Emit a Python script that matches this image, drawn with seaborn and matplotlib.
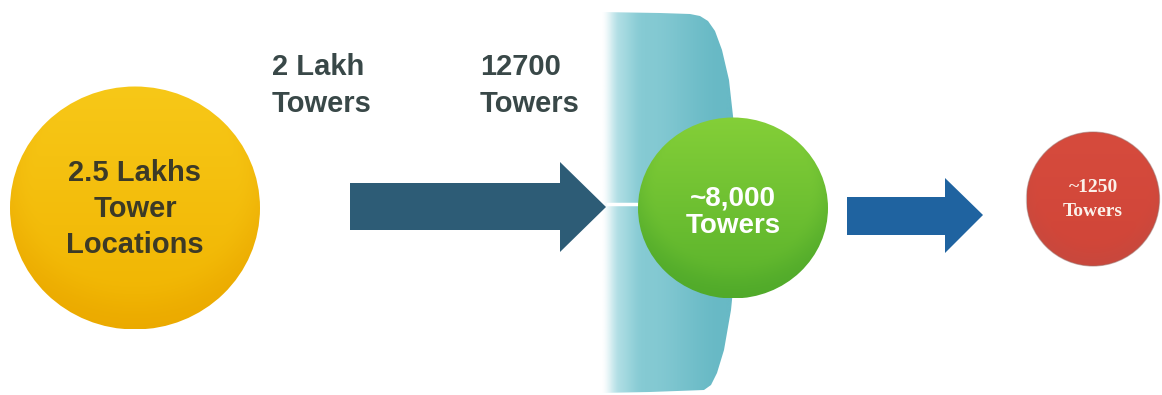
import numpy as np
import matplotlib
matplotlib.use("Agg")
import matplotlib.pyplot as plt
from matplotlib.patches import Ellipse, Polygon
from matplotlib.colors import to_rgb
import seaborn as sns

# ---- content -------------------------------------------------------------
stage_names = ["All locations", "Shortlisted", "Final"]
stage_counts = [250000, 8000, 1250]
stage_lines = [["2.5 Lakhs", "Tower", "Locations"],
               ["~8,000", "Towers"],
               ["~1250", "Towers"]]
flow_counts = [200000, 12700]
flow_lines = [["2 Lakh", "Towers"], ["12700", "Towers"]]

# ---- layout (pixel space, y grows downward) --------------------------------
stage_cx = [135, 733, 1093]
stage_cy = [208, 208, 199]
stage_w = [250, 190, 133]
stage_h = [243, 181, 134]
stage_top = ["#f7c818", "#84cf38", "#d64b3d"]
stage_bottom = ["#f0b300", "#58b12b", "#d04538"]
stage_rim = ["#e9a500", "#4ca62a", "#c44a40"]
stage_text_color = ["#3c3a27", "white", "#fbf1ea"]
stage_font = ["Liberation Sans", "Liberation Sans", "Liberation Serif"]
stage_size = [21, 20, 14]
stage_baselines = [[181, 217, 253], [205, 233], [192, 216]]

flow_x = [272, 480]
flow_baselines = [75, 112]

sns.set_theme(style="white")
plt.rcParams["font.family"] = ["Liberation Sans", "DejaVu Sans"]

fig = plt.figure(figsize=(11.62, 3.95), dpi=100)
ax = fig.add_axes([0, 0, 1, 1])
ax.axis("off")


def smoothstep(e0, e1, x):
    t = np.clip((x - e0) / (e1 - e0), 0, 1)
    return t * t * (3 - 2 * t)


def shaded_ellipse(cx, cy, w, h, top, bottom, rim, z):
    n = 300
    xs = np.linspace(-1, 1, n)
    X, Y = np.meshgrid(xs, xs)
    v = (Y + 1) / 2
    r = np.sqrt(X ** 2 + (Y + 0.2) ** 2)
    c_top, c_bot, c_rim = map(np.array, (to_rgb(top), to_rgb(bottom), to_rgb(rim)))
    img = c_top[None, None, :] * (1 - v[..., None]) + c_bot[None, None, :] * v[..., None]
    m = smoothstep(0.8, 1.2, r)[..., None] * 0.6
    img = img * (1 - m) + c_rim[None, None, :] * m
    clip = Ellipse((cx, cy), w, h, transform=ax.transData)
    im = ax.imshow(img, extent=(cx - w / 2, cx + w / 2, cy + h / 2, cy - h / 2),
                   origin="upper", zorder=z, interpolation="bilinear")
    im.set_clip_path(clip)


# ---- translucent wall -------------------------------------------------------
wall_edge = [(600, 12), (660, 13), (690, 14), (700, 16), (708, 21), (715, 31),
             (722, 50), (729, 80), (734, 125), (737, 170), (738, 210),
             (736, 260), (731, 310), (724, 350), (717, 373), (711, 385),
             (704, 390), (650, 392), (600, 393)]
wall_clip = Polygon(wall_edge, closed=True, transform=ax.transData)
wx = np.linspace(600, 740, 400)
c_light = np.array(to_rgb("#b3e0e6"))
c_mid = np.array(to_rgb("#85cad3"))
c_dark = np.array(to_rgb("#68b9c5"))
t1 = smoothstep(612, 645, wx)[:, None]
t2 = smoothstep(645, 725, wx)[:, None]
col = c_light * (1 - t1) + c_mid * t1
col = col * (1 - t2) + c_dark * t2
alpha = smoothstep(601, 620, wx)[:, None]
wall_img = np.concatenate([col, alpha], axis=1)[None, :, :].repeat(2, axis=0)
im = ax.imshow(wall_img, extent=(600, 740, 393, 12), origin="upper",
               aspect="auto", zorder=1, interpolation="bilinear")
im.set_clip_path(wall_clip)

# ---- arrows -----------------------------------------------------------------
arrow1 = [(350, 183), (560, 183), (560, 162), (606, 207), (560, 252),
          (560, 230), (350, 230)]
arrow2 = [(847, 197), (945, 197), (945, 178), (983, 215), (945, 253),
          (945, 235), (847, 235)]
ax.add_patch(Polygon(arrow1, closed=True, facecolor="#2d5c76", edgecolor="none", zorder=2))
ax.add_patch(Polygon(arrow2, closed=True, facecolor="#1f63a0", edgecolor="none", zorder=2))
ax.plot([606, 642], [204, 204], color="white", lw=2.5, solid_capstyle="butt", zorder=2)

# ---- stage circles ----------------------------------------------------------
for i in range(len(stage_counts)):
    shaded_ellipse(stage_cx[i], stage_cy[i], stage_w[i], stage_h[i],
                   stage_top[i], stage_bottom[i], stage_rim[i], z=3)
    for line, yb in zip(stage_lines[i], stage_baselines[i]):
        ax.text(stage_cx[i], yb, line, ha="center", va="baseline",
                fontsize=stage_size[i], fontweight="bold",
                family=[stage_font[i], "DejaVu Sans"],
                color=stage_text_color[i], zorder=4)

ax.add_patch(Ellipse((stage_cx[2], stage_cy[2]), stage_w[2], stage_h[2],
                     facecolor="none", edgecolor="#9a6a64", lw=0.9, alpha=0.5, zorder=4))

# ---- flow labels ------------------------------------------------------------
for x, lines in zip(flow_x, flow_lines):
    for line, yb in zip(lines, flow_baselines):
        ax.text(x, yb, line, ha="left", va="baseline", fontsize=21,
                fontweight="bold", color="#394848", zorder=4)

ax.set_xlim(0, 1162)
ax.set_ylim(395, 0)
fig.savefig("out.png", dpi=100, facecolor="white")
